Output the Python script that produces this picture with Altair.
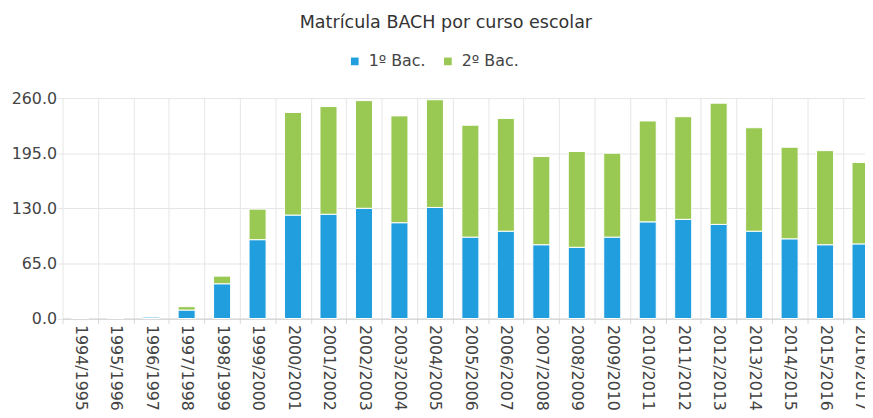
import altair as alt
import pandas as pd

cursos = ["1994/1995", "1995/1996", "1996/1997", "1997/1998", "1998/1999", "1999/2000",
          "2000/2001", "2001/2002", "2002/2003", "2003/2004", "2004/2005", "2005/2006",
          "2006/2007", "2007/2008", "2008/2009", "2009/2010", "2010/2011", "2011/2012",
          "2012/2013", "2013/2014", "2014/2015", "2015/2016", "2016/2017"]
bac1 = [0, 1, 2, 10, 41, 93, 122, 123, 130, 113, 131, 96, 103, 87, 84, 96, 114, 117, 111, 103, 94, 87, 88]
bac2 = [0, 0, 0, 4, 9, 36, 121, 127, 127, 126, 127, 132, 133, 104, 113, 99, 119, 121, 143, 122, 108, 111, 96]
series = ["1º Bac.", "2º Bac."]
colors = ["#219ede", "#99c853"]
y_ticks = [0, 65, 130, 195, 260]

rows = []
for c, a, b in zip(cursos, bac1, bac2):
    rows.append({"curso": c, "serie": series[0], "valor": a, "ord": 0})
    rows.append({"curso": c, "serie": series[1], "valor": b, "ord": 1})
df = pd.DataFrame(rows)

FONT = "DejaVu Sans"
TXT = "#444444"

chart = alt.Chart(df).mark_bar(
    width=alt.RelativeBandSize(0.48), stroke="white", strokeWidth=1
).encode(
    x=alt.X("curso:N", sort=cursos,
            scale=alt.Scale(paddingInner=0, paddingOuter=0, range=[0, 823.4]),
            axis=alt.Axis(title=None, labelAngle=90, labelAlign="left", labelBaseline="middle",
                          labelFontSize=16, labelFont=FONT, labelColor=TXT, labelPadding=1,
                          tickBand="extent", tickSize=5, tickColor="#d9d9d9",
                          domainColor="#cccccc", grid=True, gridColor="#e6e6e6")),
    y=alt.Y("valor:Q", stack="zero",
            scale=alt.Scale(domain=[0, 260], nice=False),
            axis=alt.Axis(title=None, values=y_ticks, format=".1f", labelFontSize=16,
                          labelFont=FONT, labelColor=TXT, labelPadding=1, tickSize=5,
                          tickColor="#e6e6e6", domain=False, gridColor="#e6e6e6")),
    color=alt.Color("serie:N", scale=alt.Scale(domain=series, range=colors),
                    legend=alt.Legend(title=None, orient="none", direction="horizontal",
                                      legendX=287, legendY=-45, symbolType="square",
                                      symbolSize=60, symbolStrokeWidth=0, labelFontSize=16,
                                      labelFont=FONT, labelColor=TXT, labelOffset=6,
                                      columnPadding=14)),
    order=alt.Order("ord:Q", sort="ascending"),
).properties(
    width=810, height=222.5,
    title=alt.TitleParams("Matrícula BACH por curso escolar", fontSize=17.7, font=FONT,
                          fontWeight="normal", color="#333333", anchor="middle", dx=-18,
                          offset=22),
    autosize=alt.AutoSizeParams(type="none"),
    padding={"left": 55, "top": 89, "right": 0, "bottom": 98},
).configure_view(stroke=None)

chart.save("out.html", embed_options={"renderer": "svg", "actions": False})
